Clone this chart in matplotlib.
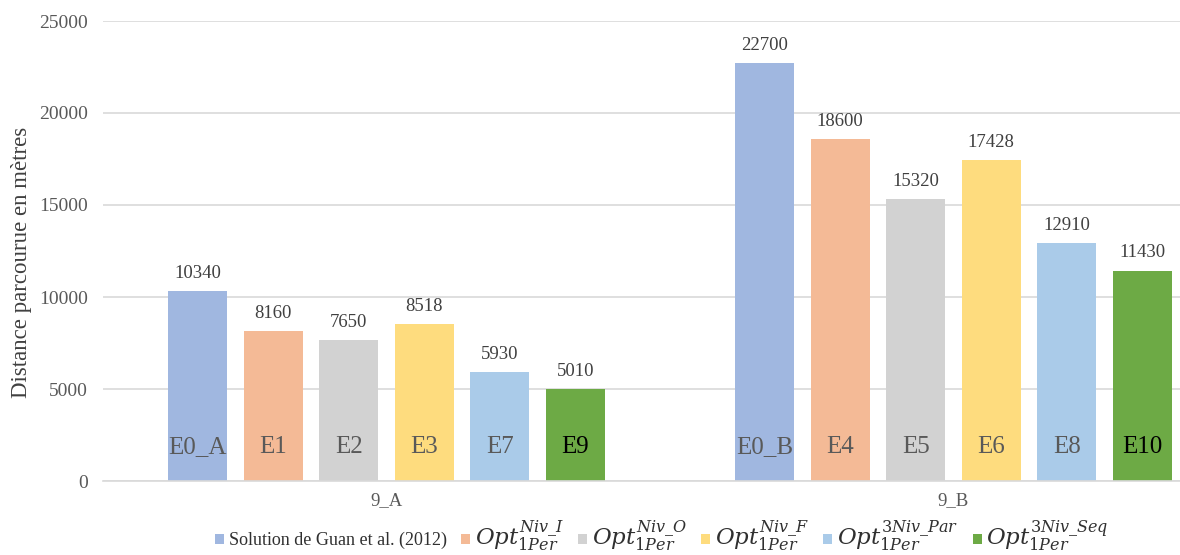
import matplotlib.pyplot as plt
import numpy as np

# ─── Données ───────────────────────────────────────────────────────────────
groupes = ["9_A", "9_B"]
series = [
    r"Solution de Guan et al. (2012)",
    r"$Opt_{1Per}^{Niv\_I}$",
    r"$Opt_{1Per}^{Niv\_O}$",
    r"$Opt_{1Per}^{Niv\_F}$",
    r"$Opt_{1Per}^{3Niv\_Par}$",
    r"$Opt_{1Per}^{3Niv\_Seq}$",
]
valeurs = [
    [10340, 22700],
    [8160, 18600],
    [7650, 15320],
    [8518, 17428],
    [5930, 12910],
    [5010, 11430],
]
etiquettes = [
    ["E0_A", "E0_B"],
    ["E1", "E4"],
    ["E2", "E5"],
    ["E3", "E6"],
    ["E7", "E8"],
    ["E9", "E10"],
]
yticks = [0, 5000, 10000, 15000, 20000, 25000]

couleurs = ["#A0B7E0", "#F4BA96", "#D2D2D2", "#FEDC7E", "#AACBE9", "#6DAA45"]
couleurs_txt = ["#595959"] * 5 + ["#000000"]

plt.rcParams["font.family"] = ["Liberation Serif", "DejaVu Serif"]
plt.rcParams["mathtext.fontset"] = "dejavuserif"

fig = plt.figure(figsize=(11.8, 5.55), dpi=100)
ax = fig.add_axes([103 / 1180, 74 / 555, 1 - 103 / 1180, 460 / 555])

x = np.arange(len(groupes))
pas = 75.5 / 567
larg = 59 / 567

for i, (nom, vals) in enumerate(zip(series, valeurs)):
    pos = x + (i - 2.5) * pas
    ax.bar(pos, vals, width=larg, color=couleurs[i], label=nom, zorder=2)
    for p, v, lab in zip(pos, vals, etiquettes[i]):
        ax.text(p, v + 500, f"{v}", ha="center", va="bottom",
                fontsize=13.5, color="#404040")
        ax.text(p, 1850, lab, ha="center", va="center",
                fontsize=18, color=couleurs_txt[i])

ax.set_xlim(-0.5, (1180 - 386.5) / 567)
ax.set_ylim(0, 25000)
ax.set_yticks(yticks)
ax.set_yticklabels([str(t) for t in yticks], fontsize=14, color="#595959")
ax.set_xticks(x)
ax.set_xticklabels(groupes, fontsize=13.5, color="#595959")
ax.tick_params(axis="y", length=0, pad=11)
ax.tick_params(axis="x", length=0, pad=8)
ax.grid(axis="y", color="#D9D9D9", lw=1.2, zorder=0)
for s in ["top", "right", "left"]:
    ax.spines[s].set_visible(False)
ax.spines["bottom"].set_color("#D9D9D9")
ax.spines["bottom"].set_linewidth(1.2)
ax.set_ylabel("Distance parcourue en mètres", fontsize=16.5, color="#404040", labelpad=6)
ax.yaxis.set_label_coords(-0.066, 0.476)

leg = fig.legend(loc="center", bbox_to_anchor=(662 / 1180, 19 / 555), ncol=6,
                 frameon=False, fontsize=13, handlelength=0.5, handleheight=0.5,
                 handletextpad=0.25, columnspacing=0.8)
for t in leg.get_texts()[1:]:
    t.set_fontsize(16.5)
for t in leg.get_texts():
    t.set_color("#303030")

fig.savefig("out.png", dpi=100)
